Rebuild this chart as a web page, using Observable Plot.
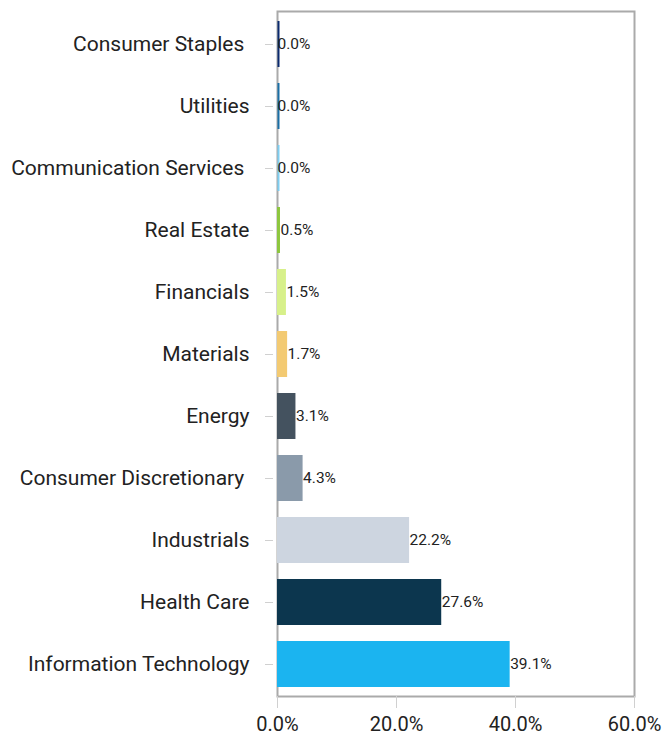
<!DOCTYPE html>
<html>
<head>
<meta charset="utf-8">
<script src="https://cdn.jsdelivr.net/npm/d3@7"></script>
<script src="https://cdn.jsdelivr.net/npm/@observablehq/plot@0.6"></script>
<style>
  html, body { margin: 0; padding: 0; background: #fff; }
  #chart svg { display: block; font-family: Roboto, "Noto Sans", sans-serif; }
</style>
</head>
<body>
<div id="chart"></div>
<script>
const categories = [
  "Consumer Staples ",
  "Utilities",
  "Communication Services ",
  "Real Estate",
  "Financials",
  "Materials",
  "Energy",
  "Consumer Discretionary ",
  "Industrials",
  "Health Care",
  "Information Technology"
];
const values = [0.0, 0.0, 0.0, 0.5, 1.5, 1.7, 3.1, 4.3, 22.2, 27.6, 39.1];
const colors = [
  "#0b2a6e", "#1a6fa6", "#7ecff2", "#8dc63f", "#d7f08a", "#f3ca72",
  "#44525f", "#8a9aaa", "#cdd5e0", "#0c364e", "#1bb4f0"
];
const xTicks = [0, 20, 40, 60];

const data = categories.map((c, i) => ({ category: c, value: values[i], color: colors[i] }));
const fmt = d => d.toFixed(1) + "%";

const chart = Plot.plot({
  width: 664,
  height: 736,
  marginLeft: 277,
  marginRight: 30,
  marginTop: 11,
  marginBottom: 40,
  style: { fontFamily: "Roboto, 'Noto Sans', sans-serif", background: "#fff" },
  x: { domain: [0, 60], ticks: xTicks },
  y: { domain: categories, paddingInner: 0.26, paddingOuter: 0.13 },
  marks: [
    Plot.frame({ stroke: "#aaaaaa", strokeWidth: 2 }),
    Plot.barX(data, { x: "value", y: "category", fill: "color" }),
    Plot.tickX(data, { x: 0, y: "category", stroke: "color", strokeWidth: 2, dx: 1 }),
    Plot.text(data, {
      x: "value", y: "category", text: d => fmt(d.value),
      textAnchor: "start", dx: 0, fontSize: 15.5, fill: "#222"
    }),
    Plot.axisY({
      tickSize: 8, tickPadding: 16, dx: -4, fontSize: 21, stroke: "#d0d0d0",
      color: "#222", label: null, tickFormat: d => d.replace(/ $/, "\u00a0")
    }),
    Plot.axisX({
      ticks: xTicks, tickSize: 12, tickPadding: 8, fontSize: 20, stroke: "#d0d0d0",
      color: "#222", label: null, tickFormat: fmt
    })
  ]
});
chart.querySelectorAll("[aria-label='y-axis tick label'] text, [aria-label='x-axis tick label'] text").forEach(t => t.setAttribute("fill", "#222"));
document.getElementById("chart").appendChild(chart);
</script>
</body>
</html>
